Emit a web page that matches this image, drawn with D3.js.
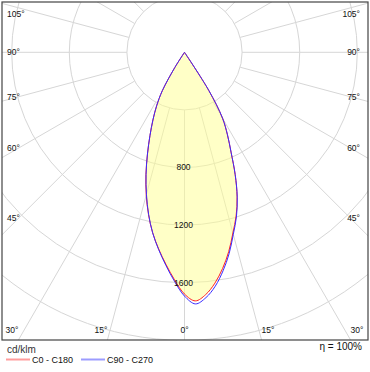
<!DOCTYPE html>
<html>
<head>
<meta charset="utf-8">
<script src="https://cdn.jsdelivr.net/npm/d3@7"></script>
<style>
  body { margin: 0; background: #fff; }
  text { font-family: "Liberation Sans", Arial, sans-serif; fill: #111; }
</style>
</head>
<body>
<div id="chart"></div>
<script>
// gamma angles (deg) and intensities in cd/klm for each half plane
const angles = [0, 2.5, 5, 7.5, 10, 12.5, 15, 17.5, 20, 22.5, 25, 27.5, 30, 32.5, 35];
const c0   = [1679, 1728, 1689, 1617, 1524, 1418, 1299, 1192, 1068, 920, 765, 646, 528, 313, 0];
const c180 = [1679, 1582, 1478, 1377, 1273, 1155, 1026, 891, 752, 627, 519, 419, 308, 125, 0];
const c90  = [1693, 1749, 1710, 1638, 1541, 1432, 1309, 1199, 1071, 920, 765, 646, 528, 313, 0];
const c270 = [1693, 1592, 1485, 1380, 1273, 1152, 1021, 888, 752, 627, 519, 419, 308, 125, 0];

const rings = [400, 800, 1200, 1600, 2000];
const ringLabels = [800, 1200, 1600];
const spokes = d3.range(0, 360, 15);
const sideLabels = [45, 60, 75, 90, 105];
const bottomLabels = [0, 15, 30];

const width = 370, height = 372;
const cx = 184.5, cy = 52.3;
const frame = {x: 2, y: 2, w: 366, h: 338};

let r = d3.scaleLinear().domain([0, 2000]).range([0, 288]);

let svg = d3.select("#chart").append("svg")
    .attr("width", width)
    .attr("height", height);

svg.append("clipPath").attr("id", "clip")
  .append("rect")
    .attr("x", frame.x).attr("y", frame.y)
    .attr("width", frame.w).attr("height", frame.h);

let plot = svg.append("g").attr("clip-path", "url(#clip)");

// gamma measured from straight down, positive to the right
function pos(deg, v) {
    let a = deg * Math.PI / 180;
    return [cx + r(v) * Math.sin(a), cy + r(v) * Math.cos(a)];
}

// build the outline: right half going up, then left half coming back
function outline(right, left) {
    let pts = [];
    let last = right.findIndex((v, i) => i > 0 && v === 0);
    for (let i = last; i >= 0; i--) pts.push(pos(angles[i], right[i]));
    let lastL = left.findIndex((v, i) => i > 0 && v === 0);
    for (let i = 1; i <= lastL; i++) pts.push(pos(-angles[i], left[i]));
    return pts;
}

let line = d3.line().curve(d3.curveCatmullRom.alpha(0.5));

// grid
plot.selectAll("circle.ring")
    .data(rings)
  .enter().append("circle")
    .attr("class", "ring")
    .attr("cx", cx).attr("cy", cy)
    .attr("r", d => r(d))
    .attr("fill", "none")
    .attr("stroke", "#d6d6d6")
    .attr("stroke-width", 1);

plot.selectAll("line.spoke")
    .data(spokes)
  .enter().append("line")
    .attr("class", "spoke")
    .attr("x1", d => pos(d, rings[0])[0])
    .attr("y1", d => pos(d, rings[0])[1])
    .attr("x2", d => pos(d, 2800)[0])
    .attr("y2", d => pos(d, 2800)[1])
    .attr("stroke", "#d6d6d6")
    .attr("stroke-width", 1);

// filled area of C0 - C180
plot.append("path")
    .attr("d", line(outline(c0, c180)))
    .attr("fill", "#ffff90")
    .attr("fill-opacity", 0.5)
    .attr("stroke", "none");

plot.append("path")
    .attr("d", line(outline(c0, c180)))
    .attr("fill", "none")
    .attr("stroke", "#ff2020")
    .attr("stroke-width", 1);

plot.append("path")
    .attr("d", line(outline(c90, c270)))
    .attr("fill", "none")
    .attr("stroke", "#3a2cff")
    .attr("stroke-width", 1);

// intensity labels along 0 degrees
svg.selectAll("text.val")
    .data(ringLabels)
  .enter().append("text")
    .attr("class", "val")
    .attr("x", cx - 1)
    .attr("y", d => cy + r(d))
    .attr("dy", "0.35em")
    .attr("text-anchor", "middle")
    .style("font-size", "8.5px")
    .text(d => d);

// angle labels on the sides
[-1, 1].forEach(side => {
    svg.selectAll("text.side" + side)
        .data(sideLabels)
      .enter().append("text")
        .attr("x", side < 0 ? 7 : 360)
        .attr("y", d => {
            let a = d * Math.PI / 180;
            let t = (cx - 19) / Math.sin(a);
            return Math.max(13.7, cy + t * Math.cos(a));
        })
        .attr("dy", "0.35em")
        .attr("text-anchor", side < 0 ? "start" : "end")
        .style("font-size", "8.5px")
        .text(d => d + "°");

    svg.selectAll("text.bottom" + side)
        .data(bottomLabels.filter(d => side > 0 || d > 0))
      .enter().append("text")
        .attr("x", d => {
            let a = d * Math.PI / 180;
            let t = (frame.y + frame.h - cy) / Math.cos(a);
            return cx + side * t * Math.sin(a);
        })
        .attr("y", 330)
        .attr("dy", "0.35em")
        .attr("text-anchor", d => d === 0 ? "middle" : (side < 0 ? "end" : "start"))
        .style("font-size", "8.5px")
        .text(d => d + "°");
});

// frame
svg.append("rect")
    .attr("x", frame.x).attr("y", frame.y)
    .attr("width", frame.w).attr("height", frame.h)
    .attr("fill", "none")
    .attr("stroke", "#444")
    .attr("stroke-width", 1.2);

// legend
svg.append("text")
    .attr("x", 7).attr("y", 353)
    .style("font-size", "10px")
    .style("fill", "#333")
    .text("cd/klm");

let legend = [
    {name: "C0 - C180", color: "#ff9c9c", x: 6},
    {name: "C90 - C270", color: "#9c9cff", x: 81}
];
let lg = svg.selectAll("g.legend")
    .data(legend)
  .enter().append("g")
    .attr("class", "legend")
    .attr("transform", d => "translate(" + d.x + ",359.5)");
lg.append("line")
    .attr("x1", 0).attr("x2", 24)
    .attr("stroke", d => d.color)
    .attr("stroke-width", 2);
lg.append("text")
    .attr("x", 26).attr("y", 3)
    .style("font-size", "9px")
    .text(d => d.name);

svg.append("text")
    .attr("x", 362).attr("y", 350)
    .attr("text-anchor", "end")
    .style("font-size", "10px")
    .text("η = 100%");
</script>
</body>
</html>
